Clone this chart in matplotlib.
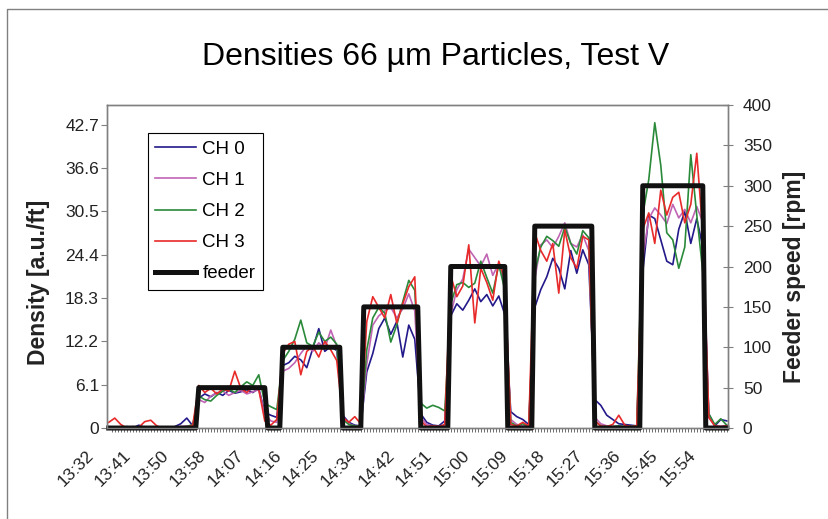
import numpy as np
import matplotlib
matplotlib.use('Agg')
import matplotlib.pyplot as plt
import matplotlib.transforms as mtransforms
from matplotlib.lines import Line2D

# sample index (one tick per sample on the time axis), densities read every 2nd sample
sample = np.arange(0, 208, 2)

ch0 = [0.0, 0.1, 0.0, 0.2, 0.0, 0.4, 0.1, 0.0, 0.0, 0.1, 0.0, 0.2, 0.6, 1.4, 0.3,
       4.2, 4.8, 4.4, 5.0, 4.6, 5.3, 4.9, 5.1, 5.4, 5.0, 5.6, 2.2,
       1.8, 1.5,
       8.8, 9.2, 10.1, 9.6, 8.5, 11.2, 14.0, 10.8, 11.5, 10.9,
       1.8, 0.8, 0.4, 0.3,
       7.9, 10.5, 14.0, 15.5, 13.2, 15.0, 10.0, 14.5, 12.5,
       2.0, 0.8, 0.4, 0.3, 1.0,
       15.8, 17.5, 16.6, 18.0, 19.6, 17.8, 18.8, 17.2, 18.6, 16.0,
       2.3, 1.6, 1.2, 0.5,
       17.0, 19.5, 21.3, 23.9, 22.5, 19.6, 25.0, 21.8, 25.1, 23.0,
       4.0, 3.2, 1.8, 1.2, 0.6, 0.5, 0.4, 0.3,
       22.0, 30.0, 29.5, 26.5, 23.5, 23.0, 28.0, 30.5, 26.0, 29.5, 25.5,
       2.0, 0.3, 1.2, 1.0]

ch1 = [0.2, 0.0, 0.1, 0.0, 0.1, 0.0, 0.2, 0.0, 0.1, 0.0, 0.1, 0.0, 0.2, 0.3, 0.2,
       4.0, 3.6, 4.5, 4.9, 5.2, 4.6, 5.0, 5.3, 4.8, 5.1, 5.4, 2.0,
       1.0, 0.8,
       8.0, 8.4, 9.2, 10.5, 11.6, 10.8, 12.0, 11.2, 13.8, 11.5,
       1.5, 0.6, 0.3, 0.2,
       9.0, 14.5, 15.8, 16.5, 17.0, 15.5, 16.8, 18.9, 16.5,
       1.5, 0.5, 0.3, 0.2, 0.4,
       16.0, 19.5, 21.0, 25.2, 24.0, 22.8, 24.5, 21.5, 23.2, 20.5,
       1.2, 0.5, 0.3, 0.4,
       21.0, 25.8, 26.5, 25.4, 27.0, 28.9, 26.0, 25.5, 27.2, 25.0,
       1.5, 0.6, 0.3, 0.2, 0.3, 0.2, 0.2, 0.3,
       24.0, 29.5, 31.0, 30.0, 28.8, 31.5, 29.6, 30.8, 28.9, 31.2, 29.0,
       1.5, 0.3, 0.2, 0.4]

ch2 = [0.0, 0.0, 0.1, 0.0, 0.0, 0.1, 0.0, 0.0, 0.1, 0.0, 0.0, 0.1, 0.0, 0.2, 0.5,
       4.5, 4.0, 3.8, 4.6, 5.2, 5.5, 5.0, 5.8, 6.5, 6.0, 7.5, 3.5,
       3.0, 2.6,
       9.5, 10.8, 12.5, 15.2, 12.0, 11.5, 13.5, 12.2, 12.8, 11.8,
       1.2, 0.5, 0.3, 0.2,
       11.0, 15.5, 17.0, 16.2, 12.1, 14.5, 17.8, 20.8, 19.4,
       3.5, 2.8, 3.2, 2.9, 2.4,
       17.5, 20.2, 20.5, 19.8, 20.4, 23.5, 21.2, 19.0, 23.0, 19.5,
       0.8, 0.3, 0.6, 0.2,
       22.0, 25.5, 27.0, 26.4, 25.6, 28.3, 26.0, 24.5, 27.8, 26.8,
       1.0, 0.3, 0.2, 0.2, 0.3, 0.2, 0.2, 0.3,
       30.0, 35.0, 43.0, 37.0, 27.5, 26.5, 22.5, 25.5, 38.5, 30.0, 22.0,
       2.0, 0.5, 1.3, 0.4]

ch3 = [0.8, 1.4, 0.5, 0.0, 0.2, 0.1, 0.9, 1.1, 0.3, 0.0, 0.1, 0.0, 0.2, 0.1, 0.4,
       6.0, 5.0, 5.6, 4.8, 5.5, 5.2, 8.0, 5.6, 5.0, 5.8, 5.4, 1.0,
       0.4, 1.2,
       10.5, 11.8, 12.2, 7.5, 10.8, 11.5, 10.0, 12.2, 11.0, 9.5,
       1.5, 0.8, 1.6, 0.6,
       15.0, 18.5, 17.0, 15.5, 18.8, 14.8, 17.5, 19.9, 21.3,
       1.0, 0.2, 0.3, 0.2, 0.5,
       21.5, 18.5, 20.0, 25.8, 14.8, 22.5, 20.5, 18.0, 23.5, 21.0,
       0.5, 0.3, 0.8, 0.3,
       27.5, 25.0, 23.5, 26.0, 19.0, 27.9, 24.0, 22.5, 27.0, 26.5,
       1.0, 0.3, 0.2, 0.5, 1.8, 0.4, 0.2, 0.3,
       28.0, 30.3, 26.0, 33.5, 30.0, 32.5, 33.2, 28.9, 31.5, 38.7, 27.5,
       1.5, 0.3, 0.2, 0.3]

# feeder speed steps (sample index, rpm)
feeder_sample = [0, 29, 30, 52, 53, 57, 58, 77, 78, 84, 85, 103, 104, 113,
                 114, 132, 133, 141, 142, 161, 162, 177, 178, 198, 199, 206]
feeder_rpm = [0, 0, 50, 50, 0, 0, 100, 100, 0, 0, 150, 150, 0, 0,
              200, 200, 0, 0, 250, 250, 0, 0, 300, 300, 0, 0]

time_labels = ['13:32', '13:41', '13:50', '13:58', '14:07', '14:16', '14:25', '14:34', '14:42',
               '14:51', '15:00', '15:09', '15:18', '15:27', '15:36', '15:45', '15:54']
density_ticks = [0, 6.1, 12.2, 18.3, 24.4, 30.5, 36.6, 42.7]
density_labels = ['0', '6.1', '12.2', '18.3', '24.4', '30.5', '36.6', '42.7']
rpm_ticks = [0, 50, 100, 150, 200, 250, 300, 350, 400]

plt.rcParams['font.family'] = ['Liberation Sans', 'DejaVu Sans']
grey = '#808080'
txt = '#222222'

fig = plt.figure(figsize=(8.29, 5.19), dpi=100)
ax = fig.add_axes([0.1294, 0.1753, 0.7491, 0.6224])
ax2 = ax.twinx()

l0, = ax.plot(sample, ch0, color='#23198a', lw=1.2, label='CH 0')
l1, = ax.plot(sample, ch1, color='#c064b4', lw=1.2, label='CH 1')
l2, = ax.plot(sample, ch2, color='#2a8a3a', lw=1.2, label='CH 2')
l3, = ax.plot(sample, ch3, color='#e82a2a', lw=1.2, label='CH 3')
lf, = ax2.plot(feeder_sample, feeder_rpm, color='#111111', lw=3.6, clip_on=False, label='feeder')

ax.set_xlim(-0.5, 206.5)
ax.set_ylim(0, 45.5)
ax2.set_ylim(0, 400)

ax.set_yticks(density_ticks)
ax.set_yticklabels(density_labels)
ax2.set_yticks(rpm_ticks)

for a in (ax, ax2):
    for sp in a.spines.values():
        sp.set_color(grey)
        sp.set_linewidth(1.0)

ax.tick_params(axis='y', direction='out', length=4.5, width=0.8, color=grey,
               labelsize=12.5, labelcolor=txt, pad=1.5)
ax2.tick_params(axis='y', direction='inout', length=7, width=0.8, color=grey,
                labelsize=12.5, labelcolor=txt, pad=7)

# time labels: one every ~12.5 samples, ticks on every sample
label_pos = np.arange(len(time_labels)) * 12.556
ax.set_xticks(label_pos)
ax.set_xticklabels(time_labels, rotation=45, ha='right', va='center', rotation_mode='anchor')
ax.set_xticks(np.arange(0, 207), minor=True)
ax.tick_params(axis='x', which='major', length=0, labelsize=12.5, labelcolor=txt, pad=18)
ax.tick_params(axis='x', which='minor', direction='out', length=3, width=0.6, color='#555555')
shift = mtransforms.ScaledTranslation(-18 / 100, 0, fig.dpi_scale_trans)
for lab in ax.get_xticklabels():
    lab.set_transform(lab.get_transform() + shift)

leg = ax2.legend([l0, l1, l2, l3, lf], ['CH 0', 'CH 1', 'CH 2', 'CH 3', 'feeder'],
                 loc='upper left', bbox_to_anchor=(0.0655, 0.913), borderaxespad=0,
                 frameon=True, fancybox=False, edgecolor='black', framealpha=1,
                 fontsize=13.5, handlelength=2.15, handletextpad=0.35,
                 labelspacing=0.75, borderpad=0.4)
leg.get_frame().set_linewidth(0.8)

fig.text(0.525, 1 - 57 / 519, 'Densities 66 µm Particles, Test V', ha='center', va='center',
         fontsize=23, color='black')
fig.text(39 / 829, 1 - 282 / 519, 'Density [a.u./ft]', rotation=90, ha='center', va='center',
         fontsize=16.5, fontweight='bold', color=txt)
fig.text(795 / 829, 1 - 277 / 519, 'Feeder speed [rpm]', rotation=90, ha='center', va='center',
         fontsize=16.5, fontweight='bold', color=txt)

# outer chart border (left and top edges visible)
fig.add_artist(Line2D([7 / 829, 7 / 829, 1], [0, 1 - 9 / 519, 1 - 9 / 519],
                      transform=fig.transFigure, color=grey, lw=1.0))

fig.savefig('out.png', dpi=100)
